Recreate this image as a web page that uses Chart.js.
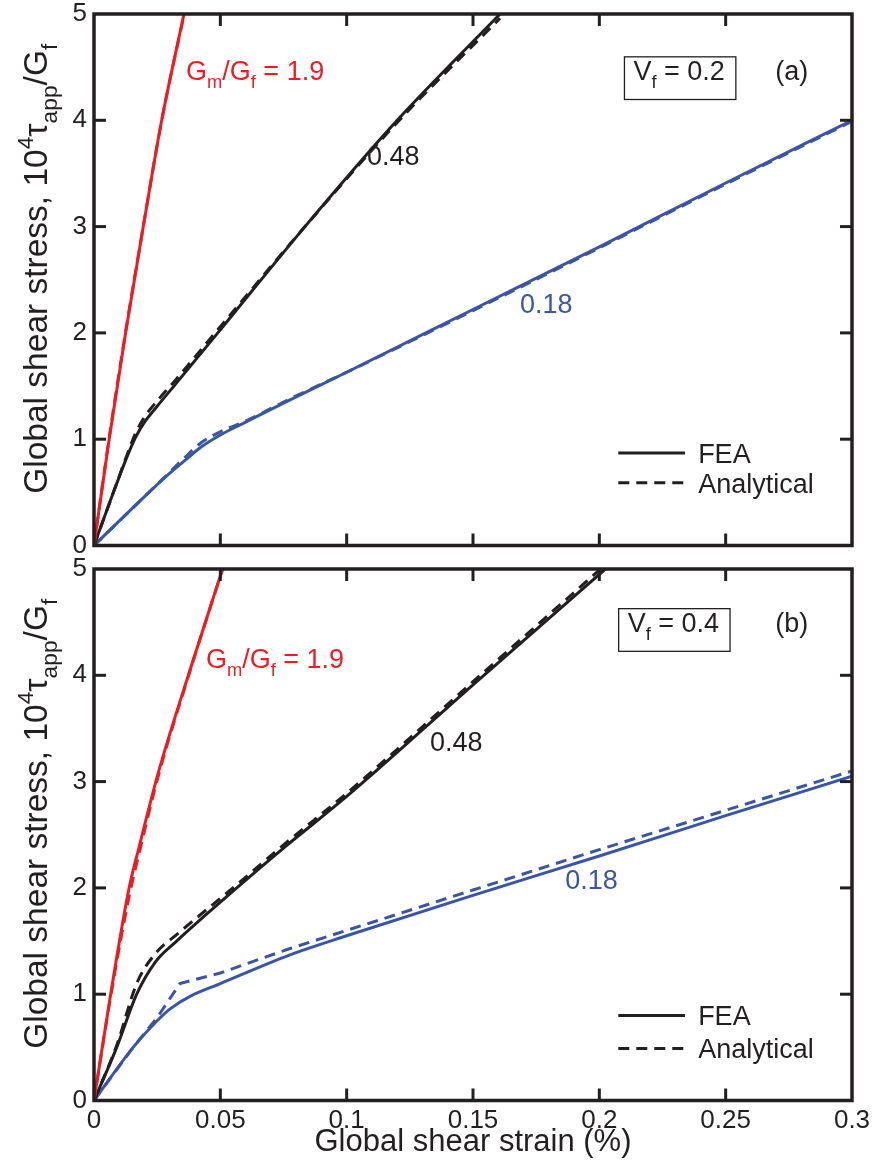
<!DOCTYPE html>
<html>
<head>
<meta charset="utf-8">
<script src="https://cdn.jsdelivr.net/npm/chart.js@4.4.0/dist/chart.umd.min.js"></script>
<style>
  body { margin: 0; background: #fff; }
  #wrap { position: relative; width: 876px; height: 1170px; }
  canvas { position: absolute; left: 0; }
</style>
</head>
<body>
<div id="wrap">
  <canvas id="chartA" width="876" height="558" style="top:0"></canvas>
  <canvas id="chartB" width="876" height="612" style="top:558px"></canvas>
</div>
<script>
// axis ticks
const xTickValues = [0, 0.05, 0.1, 0.15, 0.2, 0.25, 0.3];
const xTickLabels = ["0", "0.05", "0.1", "0.15", "0.2", "0.25", "0.3"];
const yTickValues = [0, 1, 2, 3, 4, 5];

// panel (a), Vf = 0.2
const strainRedA = [0, 0.006, 0.0125, 0.0195, 0.0268, 0.0356];
const feaRedA = [0, 1, 2, 3, 4, 5];
const anaRedA = [0, 1.01, 2.01, 3.0, 4.0, 4.99];

const strainBlackA = [0, 0.0083, 0.0135, 0.0165, 0.02, 0.025, 0.0313, 0.049, 0.0835, 0.12, 0.1607];
const feaBlackA = [0, 0.54, 0.86, 1.02, 1.16, 1.31, 1.49, 2, 3, 4, 5];
const anaBlackA = [0, 0.54, 0.88, 1.06, 1.21, 1.36, 1.53, 2.03, 3.0, 3.98, 4.96];

const strainBlueA = [0, 0.02, 0.03, 0.036, 0.042, 0.05, 0.06, 0.0776, 0.1, 0.15, 0.2, 0.25, 0.3];
const feaBlueA = [0, 0.46, 0.68, 0.8, 0.92, 1.04, 1.16, 1.37, 1.63, 2.22, 2.81, 3.41, 4.0];
const anaBlueA = [0, 0.46, 0.69, 0.83, 0.96, 1.07, 1.17, 1.38, 1.63, 2.21, 2.8, 3.4, 3.99];

// panel (b), Vf = 0.4
const strainRedB = [0, 0.0066, 0.0139, 0.0178, 0.0254, 0.038, 0.0509];
const feaRedB = [0, 1, 2, 2.38, 3.08, 4.05, 5];
const anaRedB = [0, 0.98, 1.92, 2.32, 3.05, 4.04, 5.0];

const strainBlackB = [0, 0.009, 0.0169, 0.0242, 0.0327, 0.0565, 0.0763, 0.1, 0.15, 0.2024];
const feaBlackB = [0, 0.5, 1, 1.3, 1.5, 2, 2.4, 2.86, 3.91, 5];
const anaBlackB = [0, 0.52, 1.1, 1.38, 1.56, 2.03, 2.43, 2.89, 3.94, 5.04];

const strainBlueB = [0, 0.0155, 0.025, 0.03, 0.038, 0.05, 0.0776, 0.1, 0.15, 0.2, 0.25, 0.3];
const feaBlueB = [0, 0.5, 0.75, 0.86, 0.98, 1.1, 1.37, 1.55, 1.93, 2.3, 2.68, 3.05];
const strainBlueAnaB = [0, 0.0155, 0.025, 0.034, 0.042, 0.05, 0.0776, 0.1, 0.15, 0.2, 0.25, 0.3];
const anaBlueB = [0, 0.5, 0.78, 1.1, 1.15, 1.2, 1.43, 1.6, 1.98, 2.36, 2.73, 3.1];

const FONT = '"Liberation Sans", Arial, Helvetica, sans-serif';
const RED = "#ed1c24";
const BLUE = "#3a55a4";
const BLACK = "#231f20";
const TICK = 12;

function series(xs, ys, color, dashed, straight) {
  return {
    data: xs.map((x, i) => ({ x: x, y: ys[i] })),
    borderColor: color,
    borderWidth: 3,
    borderDash: dashed ? [11, 7] : [],
    pointRadius: 0,
    cubicInterpolationMode: straight ? "default" : "monotone",
    tension: 0,
    fill: false,
  };
}

// text with sub/superscript pieces: [text, "sub" | "sup" | ""]
function richWidth(ctx, parts, size) {
  let w = 0;
  parts.forEach(([t, k]) => {
    ctx.font = (k ? size * 0.68 : size) + "px " + FONT;
    w += ctx.measureText(t).width;
  });
  return w;
}

function drawRich(ctx, x, y, parts, size) {
  let cx = x;
  parts.forEach(([t, k]) => {
    ctx.font = (k ? size * 0.68 : size) + "px " + FONT;
    const dy = k === "sub" ? size * 0.3 : k === "sup" ? -size * 0.42 : 0;
    ctx.fillText(t, cx, y + dy);
    cx += ctx.measureText(t).width;
  });
  return cx - x;
}

const yTitle = [
  ["Global shear stress, 10", ""],
  ["4", "sup"],
  ["\u03c4", ""],
  ["app", "sub"],
  ["/G", ""],
  ["f", "sub"],
];

const decorPlugin = {
  id: "decor",
  afterDatasetsDraw(chart, args, opts) {
    const { ctx, chartArea: a } = chart;
    const sx = chart.scales.x;
    const sy = chart.scales.y;
    const line = (x1, y1, x2, y2) => {
      ctx.beginPath();
      ctx.moveTo(x1, y1);
      ctx.lineTo(x2, y2);
      ctx.stroke();
    };
    ctx.save();
    ctx.strokeStyle = BLACK;
    ctx.lineCap = "butt";

    // inward ticks on all four sides
    ctx.lineWidth = 3;
    xTickValues.slice(1, -1).forEach((v) => {
      const px = sx.getPixelForValue(v);
      line(px, a.bottom, px, a.bottom - TICK);
      line(px, a.top, px, a.top + TICK);
    });
    yTickValues.slice(1, -1).forEach((v) => {
      const py = sy.getPixelForValue(v);
      line(a.left, py, a.left + TICK, py);
      line(a.right, py, a.right - TICK, py);
    });

    // frame
    ctx.lineWidth = 3.5;
    ctx.strokeRect(a.left, a.top, a.right - a.left, a.bottom - a.top);

    // notes
    ctx.textBaseline = "alphabetic";
    ctx.textAlign = "left";
    const size = 27;
    opts.notes.forEach((n) => {
      const px = sx.getPixelForValue(n.x);
      const py = sy.getPixelForValue(n.y) + size * 0.36;
      ctx.fillStyle = n.color;
      const w = drawRich(ctx, px, py, n.parts, size);
      if (n.box) {
        ctx.strokeStyle = BLACK;
        ctx.lineWidth = 1.3;
        ctx.strokeRect(px - 9, py - size * 0.86, w + 20, size * 1.58);
      }
    });

    // legend
    const lg = opts.legend;
    ctx.strokeStyle = BLACK;
    ctx.lineWidth = 3;
    lg.rows.forEach((r) => {
      const py = sy.getPixelForValue(r.y);
      ctx.setLineDash(r.dashed ? [11, 7] : []);
      line(sx.getPixelForValue(lg.x0), py, sx.getPixelForValue(lg.x1), py);
      ctx.setLineDash([]);
      ctx.fillStyle = BLACK;
      ctx.font = size + "px " + FONT;
      ctx.fillText(r.text, sx.getPixelForValue(lg.xt), py + size * 0.36);
    });

    // y axis title
    const tsize = 33.5;
    const tw = richWidth(ctx, yTitle, tsize);
    ctx.translate(47, (a.top + a.bottom) / 2 - 11);
    ctx.rotate(-Math.PI / 2);
    ctx.fillStyle = BLACK;
    drawRich(ctx, -tw / 2, 0, yTitle, tsize);
    ctx.restore();
  },
};

function makeChart(id, datasets, notes, legendRows, showX) {
  const ctx = document.getElementById(id).getContext("2d");
  return new Chart(ctx, {
    type: "line",
    data: { datasets: datasets },
    plugins: [decorPlugin],
    options: {
      responsive: false,
      animation: false,
      layout: { padding: { top: showX ? 11 : 14, right: 24, left: 0, bottom: 0 } },
      plugins: {
        legend: { display: false },
        tooltip: { enabled: false },
        decor: {
          notes: notes,
          legend: { x0: 0.2075, x1: 0.2339, xt: 0.2391, rows: legendRows },
        },
      },
      scales: {
        x: {
          type: "linear",
          min: 0,
          max: 0.3,
          grid: { display: false, drawTicks: false },
          border: { display: false },
          afterBuildTicks: (scale) => {
            scale.ticks = xTickValues.map((v) => ({ value: v }));
          },
          afterFit: (scale) => {
            scale.height = showX ? 69.5 : 12.5;
            scale.paddingLeft = 0;
            scale.paddingRight = 0;
          },
          ticks: {
            display: showX,
            padding: 5,
            color: BLACK,
            font: { family: FONT, size: 26 },
            maxRotation: 0,
            callback: (v, i) => xTickLabels[i],
          },
          title: {
            display: showX,
            text: "Global shear strain (%)",
            color: BLACK,
            font: { family: FONT, size: 31 },
            padding: { top: 0, bottom: 9 },
          },
        },
        y: {
          min: 0,
          max: 5,
          grid: { display: false, drawTicks: false },
          border: { display: false },
          afterBuildTicks: (scale) => {
            scale.ticks = yTickValues.map((v) => ({ value: v }));
          },
          afterFit: (scale) => {
            scale.width = 94;
            scale.paddingTop = 0;
            scale.paddingBottom = 0;
          },
          ticks: {
            padding: 7,
            color: BLACK,
            font: { family: FONT, size: 26 },
          },
        },
      },
    },
  });
}

const gmgf = [["G", ""], ["m", "sub"], ["/G", ""], ["f", "sub"], [" = 1.9", ""]];

makeChart(
  "chartA",
  [
    series(strainRedA, feaRedA, RED, false),
    series(strainRedA, anaRedA, RED, true),
    series(strainBlackA, feaBlackA, BLACK, false),
    series(strainBlackA, anaBlackA, BLACK, true),
    series(strainBlueA, feaBlueA, BLUE, false),
    series(strainBlueA, anaBlueA, BLUE, true),
  ],
  [
    { parts: gmgf, x: 0.0364, y: 4.47, color: RED },
    { parts: [["0.48", ""]], x: 0.108, y: 3.67, color: BLACK },
    { parts: [["0.18", ""]], x: 0.1686, y: 2.28, color: BLUE },
    { parts: [["V", ""], ["f", "sub"], [" = 0.2", ""]], x: 0.2135, y: 4.47, color: BLACK, box: true },
    { parts: [["(a)", ""]], x: 0.2696, y: 4.47, color: BLACK },
  ],
  [
    { text: "FEA", y: 0.87, dashed: false },
    { text: "Analytical", y: 0.59, dashed: true },
  ],
  false
);

makeChart(
  "chartB",
  [
    series(strainRedB, feaRedB, RED, false),
    series(strainRedB, anaRedB, RED, true),
    series(strainBlackB, feaBlackB, BLACK, false),
    series(strainBlackB, anaBlackB, BLACK, true),
    series(strainBlueB, feaBlueB, BLUE, false),
    series(strainBlueAnaB, anaBlueB, BLUE, true, true),
  ],
  [
    { parts: gmgf, x: 0.0443, y: 4.16, color: RED },
    { parts: [["0.48", ""]], x: 0.133, y: 3.38, color: BLACK },
    { parts: [["0.18", ""]], x: 0.1865, y: 2.08, color: BLUE },
    { parts: [["V", ""], ["f", "sub"], [" = 0.4", ""]], x: 0.2112, y: 4.5, color: BLACK, box: true },
    { parts: [["(b)", ""]], x: 0.2696, y: 4.5, color: BLACK },
  ],
  [
    { text: "FEA", y: 0.8, dashed: false },
    { text: "Analytical", y: 0.49, dashed: true },
  ],
  true
);
</script>
</body>
</html>
